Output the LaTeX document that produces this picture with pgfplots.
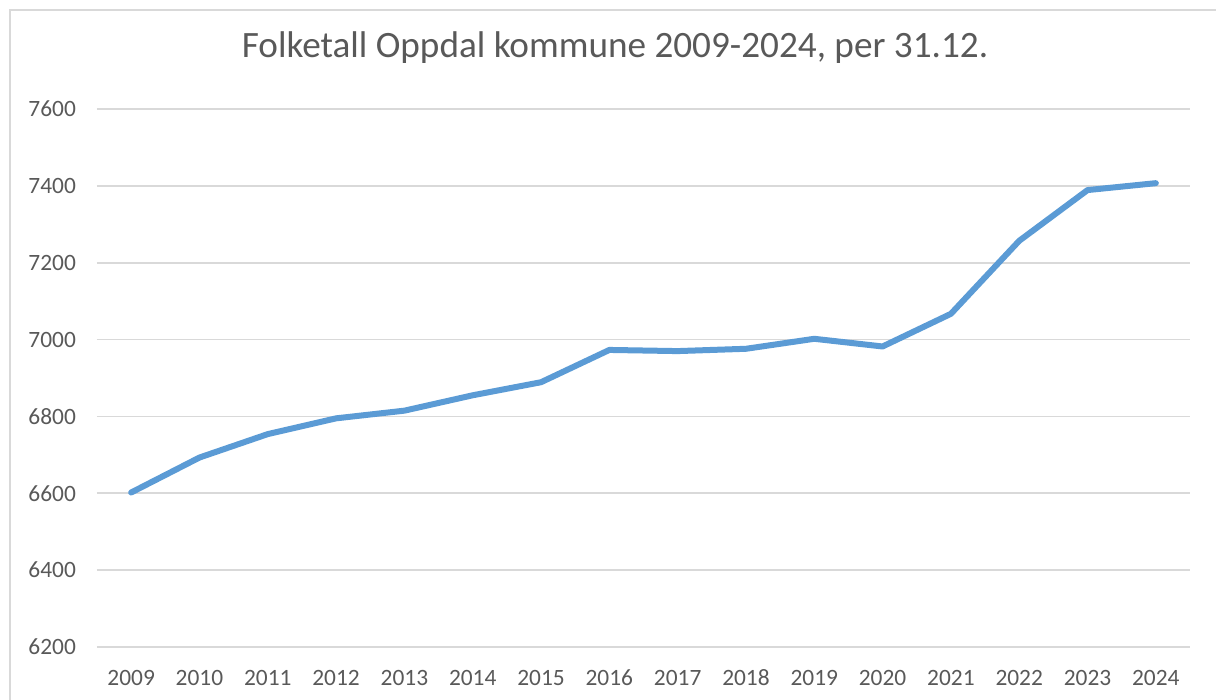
\documentclass[border=0pt]{standalone}
\usepackage{pgfplots}
\pgfplotsset{compat=1.18}
\usepackage{fontspec}
\setmainfont{Carlito}
\definecolor{txtgray}{HTML}{595959}
\definecolor{gridgray}{HTML}{D9D9D9}
\definecolor{lineblue}{HTML}{5B9BD5}
\begin{document}
\begin{tikzpicture}
\path[use as bounding box] (0pt,0pt) rectangle (608pt,350pt);
\draw[gridgray, line width=1pt] (5pt,0pt) -- (5pt,345pt) -- (608pt,345pt);
\node[txtgray, font=\fontsize{18.6}{22}\selectfont] at (307.5pt,326pt) {Folketall Oppdal kommune 2009-2024, per 31.12.};
\begin{axis}[
  at={(48.5pt,26.5pt)}, anchor=south west,
  scale only axis, width=546.5pt, height=269pt,
  xmin=-0.5, xmax=15.5, ymin=6200, ymax=7600,
  xtick={0,...,15},
  xticklabels={2009,2010,2011,2012,2013,2014,2015,2016,2017,2018,2019,2020,2021,2022,2023,2024},
  ytick={6200,6400,...,7600},
  /pgf/number format/assume math mode=true,
  /pgf/number format/set thousands separator={},
  ticklabel style={font=\fontsize{11.7}{13}\selectfont, text=txtgray},
  yticklabel style={xshift=-7pt},
  xticklabel style={yshift=-7.5pt, text height=8pt, text depth=0pt},
  axis line style={draw=none},
  major tick length=0pt,
  ymajorgrids, grid style={gridgray, line width=0.9pt},
  clip=false,
]
\addplot[lineblue, line width=3pt, line join=round, line cap=round] coordinates {
(0,6602) (1,6693) (2,6754) (3,6795) (4,6815) (5,6855) (6,6889) (7,6973)
(8,6970) (9,6976) (10,7002) (11,6982) (12,7067) (13,7257) (14,7389) (15,7407)
};
\end{axis}
\end{tikzpicture}
\end{document}
